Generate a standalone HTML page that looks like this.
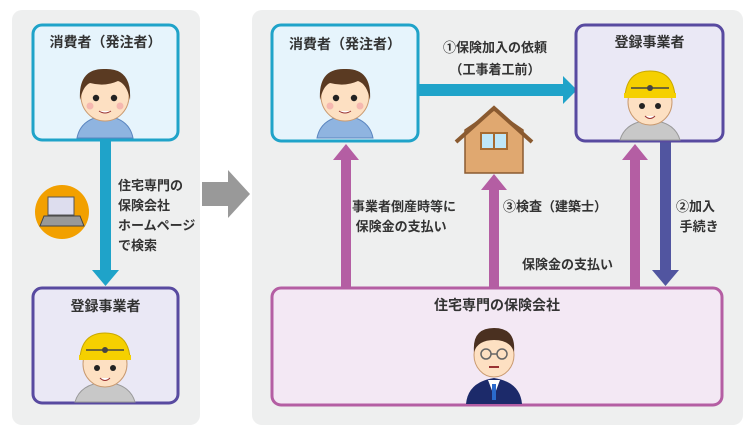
<!DOCTYPE html>
<html><head><meta charset="utf-8"><style>
body{margin:0;width:755px;height:437px;background:#fff;position:relative;overflow:hidden;font-family:"Liberation Sans","Noto Sans CJK JP",sans-serif;font-weight:bold;color:#333}
.a{position:absolute}
.t{position:absolute;font-size:13px;line-height:20px;white-space:nowrap}
</style></head><body>
<svg class="a" style="left:0;top:0" width="755" height="437">
<defs>
<g id="boy">
<path d="M-28 42 Q-24 22 0 20 Q24 22 28 42Z" fill="#8fb4e0" stroke="#5b86c0"/>
<rect x="-6" y="10" width="12" height="12" fill="#fbd9b8"/>
<ellipse cx="0" cy="0" rx="24" ry="25" fill="#fde0c2" stroke="#c99a70"/>
<path d="M-25 4 Q-27 -28 0 -27 Q27 -28 25 4 Q22 -12 13 -15 Q0 -9 -15 -13 Q-22 -10 -25 4Z" fill="#5a3a22"/>
<circle cx="-9" cy="2" r="3.2" fill="#222"/><circle cx="9" cy="2" r="3.2" fill="#222"/>
<circle cx="-15" cy="10" r="3.5" fill="#f5b8b0"/><circle cx="15" cy="10" r="3.5" fill="#f5b8b0"/>
<path d="M-6 15 Q0 19 6 15" fill="#fff" stroke="#933"/>
</g>
<g id="wk">
<path d="M-30 40 Q-25 22 0 20 Q25 22 30 40Z" fill="#c8c8c8" stroke="#999"/>
<ellipse cx="0" cy="2" rx="22" ry="23" fill="#fde0c2" stroke="#c99a70"/>
<path d="M-25 -4 Q-23 -29 0 -29 Q23 -29 25 -4Z" fill="#f5d000" stroke="#c9a800"/>
<rect x="-26" y="-7" width="52" height="5" fill="#f5d000"/>
<line x1="-19" y1="-12" x2="19" y2="-12" stroke="#444" stroke-width="1.5"/>
<circle cx="0" cy="-12" r="3" fill="#444"/>
<circle cx="-8" cy="6" r="3" fill="#222"/><circle cx="8" cy="6" r="3" fill="#222"/>
<path d="M-5 16 Q0 21 5 16" fill="#fff" stroke="#933"/>
</g>
</defs>
<rect x="12" y="10" width="188" height="415" rx="10" fill="#eeefef"/>
<rect x="252" y="10" width="491" height="415" rx="10" fill="#eeefef"/>
<rect x="100" y="140" width="11" height="130" fill="#1fa3c9"/>
<polygon points="92,270 119,270 105.5,286" fill="#1fa3c9"/>
<rect x="33" y="25" width="145" height="115" rx="9" fill="#e6f4fc" stroke="#1fa3c9" stroke-width="3"/>
<use href="#boy" x="105" y="96"/>
<rect x="33" y="288" width="145" height="115" rx="9" fill="#eae8f5" stroke="#584aa0" stroke-width="3"/>
<use href="#wk" x="105" y="362"/>
<circle cx="62" cy="212" r="27" fill="#f2a000"/>
<rect x="48" y="197" width="26" height="18" fill="#dde" stroke="#555"/>
<polygon points="44,216 80,216 84,226 40,226" fill="#999" stroke="#444"/>
<polygon points="202,182 228,182 228,170 250,194 228,218 228,206 202,206" fill="#999"/>
<rect x="418" y="84" width="147" height="12" fill="#1fa3c9"/>
<polygon points="563,76 577,90 563,104" fill="#1fa3c9"/>
<rect x="341" y="158" width="10" height="130" fill="#b45ea3"/>
<polygon points="333,160 359,160 346,144" fill="#b45ea3"/>
<rect x="489" y="188" width="10" height="100" fill="#b45ea3"/>
<polygon points="481,190 507,190 494,174" fill="#b45ea3"/>
<rect x="630" y="158" width="10" height="130" fill="#b45ea3"/>
<polygon points="622,160 648,160 635,144" fill="#b45ea3"/>
<rect x="660" y="142" width="11" height="128" fill="#5155a0"/>
<polygon points="652,270 679,270 665.5,286" fill="#5155a0"/>
<!-- house -->
<polygon points="465,130 494,110 523,130 523,173 465,173" fill="#e0a870" stroke="#8a5a30" stroke-width="1.5"/>
<polyline points="456,142 494,108 532,142" fill="none" stroke="#8a5a30" stroke-width="4" stroke-linejoin="miter"/>
<rect x="481" y="133" width="26" height="16" fill="#bfe6f7" stroke="#a66a30" stroke-width="2"/>
<line x1="494" y1="133" x2="494" y2="149" stroke="#a66a30" stroke-width="2"/>
<rect x="272" y="25" width="146" height="116" rx="9" fill="#e6f4fc" stroke="#1fa3c9" stroke-width="3"/>
<use href="#boy" x="345" y="96"/>
<rect x="576" y="25" width="147" height="116" rx="9" fill="#eae8f5" stroke="#584aa0" stroke-width="3"/>
<use href="#wk" x="650" y="100"/>
<rect x="272" y="288" width="450" height="117" rx="9" fill="#f3e8f4" stroke="#b45ea3" stroke-width="3"/>
<path d="M466 404 Q468 382 494 378 Q520 382 522 404Z" fill="#1c2a6a"/>
<polygon points="488,380 500,380 494,396" fill="#fff"/>
<rect x="492" y="384" width="4" height="16" fill="#2a6acc"/>
<ellipse cx="494" cy="355" rx="20" ry="22" fill="#fde0c2" stroke="#c99a70"/>
<path d="M474 352 Q472 328 494 328 Q516 328 514 352 Q510 340 494 340 Q478 340 474 352Z" fill="#4a3020"/>
<circle cx="486" cy="354" r="5" fill="none" stroke="#666" stroke-width="1.5"/>
<circle cx="502" cy="354" r="5" fill="none" stroke="#666" stroke-width="1.5"/>
<line x1="491" y1="354" x2="497" y2="354" stroke="#666" stroke-width="1.5"/>
<path d="M489 367 L499 367" stroke="#933" stroke-width="2"/>
</svg>
<div class="t" style="left:33px;width:145px;text-align:center;top:32px;font-size:14px">消費者（発注者）</div>
<div class="t" style="left:33px;width:145px;text-align:center;top:296px;font-size:14px">登録事業者</div>
<div class="t" style="left:118px;top:176px">住宅専門の<br>保険会社<br>ホームページ<br>で検索</div>
<div class="t" style="left:272px;width:146px;text-align:center;top:34px;font-size:14px">消費者（発注者）</div>
<div class="t" style="left:576px;width:147px;text-align:center;top:32px;font-size:14px">登録事業者</div>
<div class="t" style="left:420px;width:150px;text-align:center;top:37px;line-height:22px">①保険加入の依頼<br>（工事着工前）</div>
<div class="t" style="left:352px;top:197px">事業者倒産時等に<br>&nbsp;保険金の支払い</div>
<div class="t" style="left:503px;top:197px">③検査（建築士）</div>
<div class="t" style="left:522px;top:255px">保険金の支払い</div>
<div class="t" style="left:676px;top:197px">②加入<br>&nbsp;手続き</div>
<div class="t" style="left:272px;width:450px;text-align:center;top:295px;font-size:14px">住宅専門の保険会社</div>
</body></html>
